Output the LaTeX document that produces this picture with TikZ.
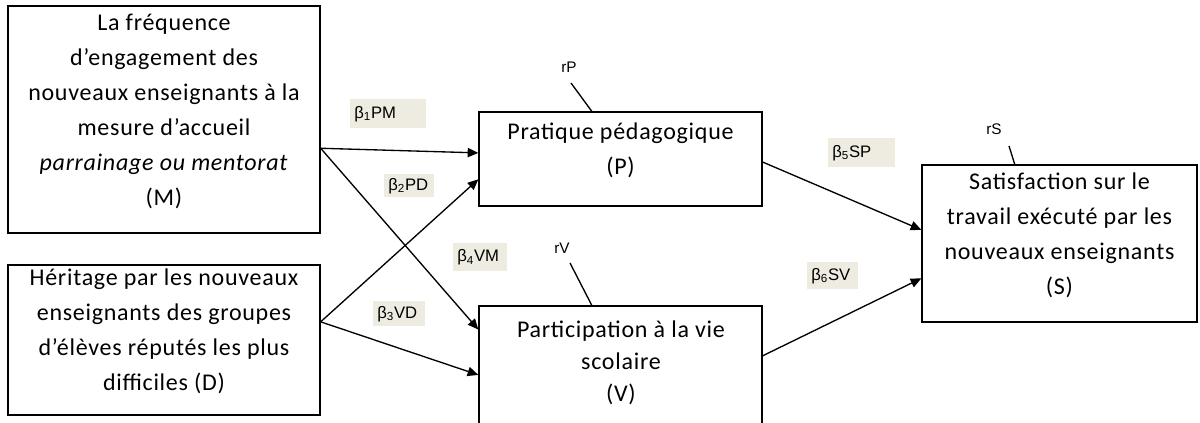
\documentclass[tikz,border=0pt]{standalone}
\usepackage{fontspec}
\setmainfont{Carlito}[LetterSpace=3]
\newfontfamily\lblfont{Liberation Sans}
\usetikzlibrary{arrows.meta,fit,calc}
\definecolor{lblbg}{HTML}{EEECE1}
\newcommand\boxfont{\fontsize{18}{26.25}\selectfont}
\begin{document}
\begin{tikzpicture}[x=0.75pt,y=-0.75pt,
  box/.style={draw, line width=1pt, inner sep=0pt, align=center, font=\boxfont},
  arr/.style={line width=1pt, -{Triangle[length=8pt,width=7pt]}},
  ln/.style={line width=1pt},
  coef/.style={fill=lblbg, anchor=north west, inner ysep=0pt, inner xsep=3pt, align=left, font={\lblfont\fontsize{12.5}{14}\selectfont}},
  res/.style={font={\lblfont\fontsize{11.5}{13}\selectfont}, inner sep=0pt}]
\clip (0,0) rectangle (1200,423);
% boxes
\node[box, fit={(8,6) (320,233)}] (M) {La fréquence\\d’engagement des\\nouveaux enseignants à la\\mesure d’accueil\\\textit{parrainage ou mentorat}\\(M)};
\node[box, fit={(8,265) (320,415)}] (D) {Héritage par les nouveaux\\enseignants des groupes\\d’élèves réputés les plus\\difficiles (D)};
\node[box, fit={(479,112) (762,206)}] (P) {Pratique pédagogique\\(P)};
\node[box, fit={(479,306) (762,460)}] (V) {};
\node[font={\fontsize{18}{24}\selectfont}, align=center, inner sep=0pt] (Vt) at (621,363) {Participation à la vie\\scolaire\\(V)};
\node[box, fit={(922,165) (1197,322)}] (S) {Satisfaction sur le\\travail exécuté par les\\nouveaux enseignants\\(S)};
% connectors
\draw[arr] ($(M.north east)!0.626!(M.south east)$) -- ($(P.north west)!0.436!(P.south west)$);
\draw[arr] ($(M.north east)!0.626!(M.south east)$) -- ($(V.north west)!0.156!(V.south west)$);
\draw[arr] ($(D.north east)!0.38!(D.south east)$) -- ($(P.north west)!0.713!(P.south west)$);
\draw[arr] ($(D.north east)!0.38!(D.south east)$) -- ($(V.north west)!0.448!(V.south west)$);
\draw[arr] ($(P.north east)!0.532!(P.south east)$) -- ($(S.north west)!0.414!(S.south west)$);
\draw[arr] ($(V.north east)!0.325!(V.south east)$) -- ($(S.north west)!0.72!(S.south west)$);
% residuals
\node[res] (rP) at (569,67) {rP};
\coordinate (rPa) at (571,83);
\draw[ln] (rPa) -- ($(P.north west)!0.399!(P.north east)$);
\node[res] (rV) at (562,248) {rV};
\coordinate (rVa) at (570,263);
\draw[ln] (rVa) -- ($(V.north west)!0.399!(V.north east)$);
\node[res] (rS) at (994,129) {rS};
\coordinate (rSa) at (1009,146);
\draw[ln] (rSa) -- ($(S.north west)!0.338!(S.north east)$);
% coefficients
\node[coef, text width=51pt, minimum height=21.75pt] (b1) at (350,99) {β\textsubscript{1}PM};
\node[coef, text width=31.5pt, minimum height=17.25pt] (b2) at (384,174) {β\textsubscript{2}PD};
\node[coef, text width=34.5pt, minimum height=21pt] (b4) at (453,243) {β\textsubscript{4}VM};
\node[coef, text width=33pt, minimum height=18.75pt] (b3) at (373,301) {β\textsubscript{3}VD};
\node[coef, text width=44.25pt, minimum height=21.75pt] (b5) at (828,138) {β\textsubscript{5}SP};
\node[coef, text width=32.25pt, minimum height=20.25pt] (b6) at (807,262) {β\textsubscript{6}SV};
\end{tikzpicture}
\end{document}
